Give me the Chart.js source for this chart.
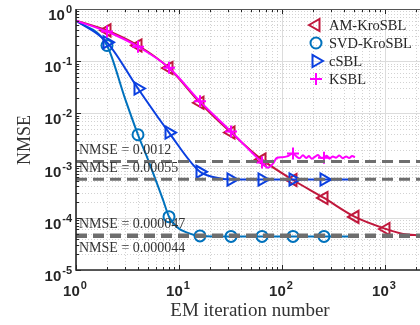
<!DOCTYPE html>
<html>
<head>
<meta charset="utf-8">
<script src="https://cdn.jsdelivr.net/npm/chart.js@4.4.1/dist/chart.umd.min.js"></script>
<style>
    body { margin: 0; background: #fff; }
    canvas { display: block; }
</style>
</head>
<body>
<canvas id="nmse-chart" width="420" height="325"></canvas>
<script>
// series (x = EM iteration, y = NMSE)
const seriesNames = ['AM-KroSBL', 'SVD-KroSBL', 'cSBL', 'KSBL'];

const amX = [1, 2, 4, 8, 16, 32, 64, 128, 256, 512, 1024, 1500, 2190];
const amY = [0.6, 0.39, 0.2, 0.074, 0.016, 0.0043, 0.0013, 0.00053, 0.00024, 0.000104, 0.000061, 0.000049, 0.000046];
const amMarks = [2, 4, 8, 16, 32, 64, 128, 256, 512, 1024];

const svdX = [1, 2, 3, 4, 5, 7, 8, 9.6, 12, 16, 32, 64, 128, 256, 512];
const svdY = [0.6, 0.2, 0.019, 0.0039, 0.0013, 0.00022, 0.000105, 0.000066, 0.000052, 0.000045, 0.000044, 0.000044, 0.000044, 0.000044, 0.000044];
const svdMarks = [2, 4, 8, 16, 32, 64, 128, 256];

const csblX = [1, 2, 4, 8, 16, 22, 32, 64, 128, 256, 512];
const csblY = [0.6, 0.23, 0.03, 0.0043, 0.00076, 0.0006, 0.00054, 0.00054, 0.00054, 0.00054, 0.00054];
const csblMarks = [2, 4, 8, 16, 32, 64, 128, 256];

const ksblX = [1, 2, 4, 8, 16, 32, 64, 73, 82, 89, 100, 112, 128, 138, 148, 160, 172, 183, 195, 210, 224, 240, 256, 272, 290, 312, 335, 360, 390, 420, 450, 480, 512];
const ksblY = [0.6, 0.37, 0.19, 0.075, 0.017, 0.0045, 0.00115, 0.00091, 0.0011, 0.0014, 0.00145, 0.0015, 0.0017, 0.0015, 0.00138, 0.00158, 0.0014, 0.00152, 0.00135, 0.00148, 0.0016, 0.0014, 0.00142, 0.00155, 0.00136, 0.0015, 0.00142, 0.00156, 0.00138, 0.0015, 0.0014, 0.00152, 0.00145];
const ksblMarks = [2, 4, 8, 16, 32, 64, 128, 256];

const nmseLevels = [0.0012, 0.00055, 0.000047, 0.000044];
const nmseLabels = ['NMSE = 0.0012', 'NMSE = 0.00055', 'NMSE = 0.000047', 'NMSE = 0.000044'];

const xRange = [1, 2190];
const yRange = [1e-5, 1];
const xTickExps = [0, 1, 2, 3];
const yTickExps = [0, -1, -2, -3, -4, -5];

const colors = ['#c0183c', '#0072bd', '#0a3fe0', '#ff00ff'];

function toPoints(xs, ys) {
    return xs.map((x, i) => ({x: x, y: ys[i]}));
}

function markerRadius(marks, r) {
    return ctx => (ctx.raw && marks.includes(ctx.raw.x)) ? r : 0;
}

function lineSet(idx, xs, ys, marks, style, rot, r) {
    return {
        label: seriesNames[idx],
        data: toPoints(xs, ys),
        borderColor: colors[idx],
        borderWidth: 2,
        pointStyle: style,
        pointRotation: rot,
        pointRadius: markerRadius(marks, r),
        pointBorderWidth: 2,
        pointBorderColor: colors[idx],
        pointBackgroundColor: 'rgba(0,0,0,0)',
        cubicInterpolationMode: 'monotone',
        order: 4 - idx + 1
    };
}

const datasets = [
    lineSet(0, amX, amY, amMarks, 'triangle', -90, 7),
    lineSet(1, svdX, svdY, svdMarks, 'circle', 0, 5.5),
    lineSet(2, csblX, csblY, csblMarks, 'triangle', 90, 7),
    lineSet(3, ksblX, ksblY, ksblMarks, 'cross', 0, 6)
];
nmseLevels.forEach(v => {
    datasets.push({
        label: 'level',
        data: [{x: xRange[0], y: v}, {x: xRange[1], y: v}],
        borderColor: '#6e6e6e',
        borderWidth: 3,
        borderDash: [11, 6],
        pointRadius: 0,
        order: 0
    });
});

function gridValues(lo, hi) {
    const out = [];
    for (let e = Math.floor(Math.log10(lo)); e <= Math.ceil(Math.log10(hi)); e++) {
        for (let m = 1; m < 10; m++) {
            const v = m * Math.pow(10, e);
            if (v >= lo * 0.999 && v <= hi * 1.001) out.push({v: v, major: m === 1});
        }
    }
    return out;
}

function drawPow(ctx, exp, x, y, align) {
    ctx.font = 'bold 15px "Liberation Sans", Arial, sans-serif';
    const wb = ctx.measureText('10').width;
    ctx.font = 'bold 11px "Liberation Sans", Arial, sans-serif';
    const sup = String(exp);
    const ws = ctx.measureText(sup).width;
    const total = wb + ws + 1;
    let left = align === 'right' ? x - total : x - total / 2;
    ctx.textAlign = 'left';
    ctx.textBaseline = 'alphabetic';
    ctx.font = 'bold 15px "Liberation Sans", Arial, sans-serif';
    ctx.fillText('10', left, y);
    ctx.font = 'bold 11px "Liberation Sans", Arial, sans-serif';
    ctx.fillText(sup, left + wb + 1, y - 7);
}

const decorPlugin = {
    id: 'decor',
    beforeDatasetsDraw(chart) {
        const {ctx, chartArea: a, scales: {x, y}} = chart;
        ctx.save();
        ctx.lineWidth = 1;
        const gx = gridValues(xRange[0], xRange[1]);
        const gy = gridValues(yRange[0], yRange[1]);
        // minor dotted grid
        ctx.strokeStyle = '#d2d2d2';
        ctx.setLineDash([1, 2]);
        ctx.beginPath();
        gx.filter(g => !g.major).forEach(g => {
            const px = Math.round(x.getPixelForValue(g.v)) + 0.5;
            ctx.moveTo(px, a.top); ctx.lineTo(px, a.bottom);
        });
        gy.filter(g => !g.major).forEach(g => {
            const py = Math.round(y.getPixelForValue(g.v)) + 0.5;
            ctx.moveTo(a.left, py); ctx.lineTo(a.right, py);
        });
        ctx.stroke();
        // major solid grid
        ctx.setLineDash([]);
        ctx.strokeStyle = '#dcdcdc';
        ctx.beginPath();
        gx.filter(g => g.major).forEach(g => {
            const px = Math.round(x.getPixelForValue(g.v)) + 0.5;
            ctx.moveTo(px, a.top); ctx.lineTo(px, a.bottom);
        });
        gy.filter(g => g.major).forEach(g => {
            const py = Math.round(y.getPixelForValue(g.v)) + 0.5;
            ctx.moveTo(a.left, py); ctx.lineTo(a.right, py);
        });
        ctx.stroke();
        ctx.restore();
    },
    afterDatasetsDraw(chart) {
        const {ctx, chartArea: a, scales: {x, y}} = chart;
        ctx.save();
        // level labels
        ctx.fillStyle = '#333';
        ctx.font = '14px "Liberation Serif", "Times New Roman", serif';
        ctx.textAlign = 'left';
        ctx.textBaseline = 'alphabetic';
        nmseLevels.forEach((v, i) => {
            const py = y.getPixelForValue(v);
            const dy = i === 3 ? 16 : -7;
            ctx.fillText(nmseLabels[i], a.left + 3, py + dy);
        });

        // box and ticks
        const gx = gridValues(xRange[0], xRange[1]);
        const gy = gridValues(yRange[0], yRange[1]);
        ctx.strokeStyle = '#262626';
        ctx.lineWidth = 1;
        ctx.beginPath();
        gx.forEach(g => {
            const px = Math.round(x.getPixelForValue(g.v)) + 0.5;
            const len = g.major ? 5 : 3;
            ctx.moveTo(px, a.bottom); ctx.lineTo(px, a.bottom - len);
            ctx.moveTo(px, a.top); ctx.lineTo(px, a.top + len);
        });
        gy.forEach(g => {
            const py = Math.round(y.getPixelForValue(g.v)) + 0.5;
            const len = g.major ? 5 : 3;
            ctx.moveTo(a.left, py); ctx.lineTo(a.left + len, py);
        });
        ctx.stroke();
        ctx.strokeStyle = '#555';
        ctx.beginPath();
        ctx.moveTo(a.left, Math.round(a.top) + 0.5); ctx.lineTo(a.right, Math.round(a.top) + 0.5);
        ctx.stroke();
        ctx.strokeStyle = '#262626';
        ctx.lineWidth = 1.6;
        ctx.beginPath();
        ctx.moveTo(a.left, a.top); ctx.lineTo(a.left, a.bottom); ctx.lineTo(a.right, a.bottom);
        ctx.stroke();

        // tick labels
        ctx.fillStyle = '#262626';
        xTickExps.forEach(e => {
            drawPow(ctx, e, x.getPixelForValue(Math.pow(10, e)) - 1, a.bottom + 26, 'center');
        });
        yTickExps.forEach(e => {
            drawPow(ctx, e, a.left - 4, y.getPixelForValue(Math.pow(10, e)) + 11, 'right');
        });

        // axis titles
        ctx.fillStyle = '#333';
        ctx.font = '19px "Liberation Serif", "Times New Roman", serif';
        ctx.textAlign = 'center';
        ctx.textBaseline = 'middle';
        ctx.fillText('EM iteration number', 250, 311);
        ctx.save();
        ctx.translate(25, 140);
        ctx.rotate(-Math.PI / 2);
        ctx.font = '18px "Liberation Serif", "Times New Roman", serif';
        ctx.fillText('NMSE', 0, 0);
        ctx.restore();

        // legend (markers only, as in the figure)
        const styles = [['triangle', -90, 7], ['circle', 0, 5.5], ['triangle', 90, 7], ['cross', 0, 6]];
        seriesNames.forEach((name, i) => {
            const ly = 25 + i * 18;
            ctx.lineWidth = 2;
            ctx.strokeStyle = colors[i];
            ctx.fillStyle = 'rgba(0,0,0,0)';
            Chart.helpers.drawPoint(ctx, {
                pointStyle: styles[i][0], rotation: styles[i][1], radius: styles[i][2], borderWidth: 2
            }, 316, ly);
            ctx.fillStyle = '#262626';
            ctx.font = '14.5px "Liberation Serif", "Times New Roman", serif';
            ctx.textAlign = 'left';
            ctx.textBaseline = 'middle';
            ctx.fillText(name, 329, ly + 1);
        });
        ctx.restore();
    }
};

new Chart(document.getElementById('nmse-chart'), {
    type: 'line',
    data: {datasets: datasets},
    options: {
        responsive: false,
        animation: false,
        layout: {padding: {left: 76, top: 9, right: 0, bottom: 55}},
        scales: {
            x: {type: 'logarithmic', min: xRange[0], max: xRange[1], display: false},
            y: {type: 'logarithmic', min: yRange[0], max: yRange[1], display: false}
        },
        plugins: {
            legend: {display: false},
            tooltip: {enabled: false}
        }
    },
    plugins: [decorPlugin]
});
</script>
</body>
</html>
